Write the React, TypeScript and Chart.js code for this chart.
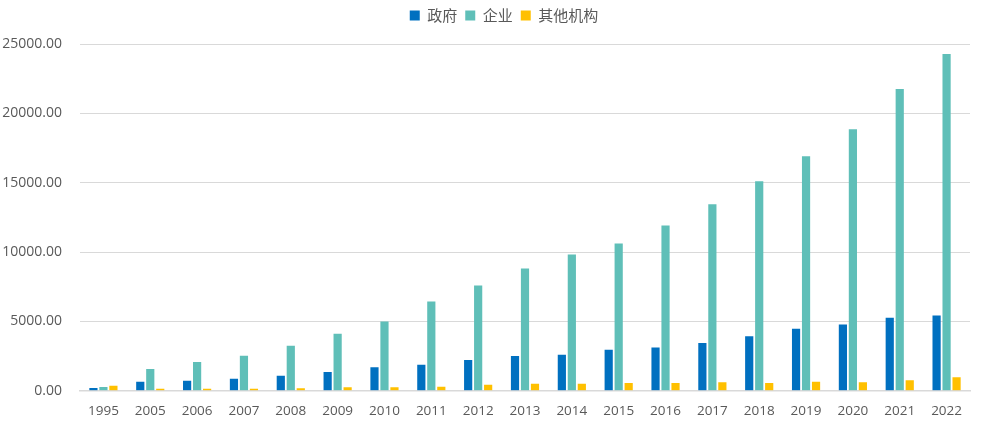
import React, { useEffect, useRef } from "react";
import { Chart, registerables } from "chart.js";

Chart.register(...registerables);

const years = ["1995", "2005", "2006", "2007", "2008", "2009", "2010", "2011", "2012", "2013", "2014", "2015", "2016", "2017", "2018", "2019", "2020", "2021", "2022"];
const government = [200, 650, 720, 870, 1090, 1360, 1690, 1880, 2220, 2500, 2600, 2960, 3120, 3450, 3930, 4480, 4780, 5270, 5420];
const enterprise = [270, 1580, 2070, 2530, 3250, 4120, 5000, 6430, 7590, 8820, 9830, 10620, 11920, 13440, 15100, 16900, 18860, 21750, 24280];
const others = [370, 140, 140, 150, 190, 250, 260, 300, 430, 500, 500, 560, 560, 620, 560, 660, 620, 760, 970];
const seriesNames = ["政府", "企业", "其他机构"];

const TOP_GAP = 11;

const legendShift = {
  id: "legendShift",
  afterLayout(chart: any) {
    if (chart.legend) {
      chart.legend.left += 18;
      chart.legend.right += 18;
      chart.legend.top -= TOP_GAP;
      chart.legend.bottom -= TOP_GAP;
    }
  },
};

export default function App() {
  const ref = useRef<HTMLCanvasElement>(null);
  useEffect(() => {
    document.body.style.margin = "0";
    const ctx = ref.current!;
    const font = "'Noto Sans CJK SC', 'Open Sans', sans-serif";
    const numFont = "'Open Sans', sans-serif";
    const chart = new Chart(ctx, {
      type: "bar",
      data: {
        labels: years,
        datasets: [
          { label: seriesNames[0], data: government, backgroundColor: "#0070C0" },
          { label: seriesNames[1], data: enterprise, backgroundColor: "#5FBFB8" },
          { label: seriesNames[2], data: others, backgroundColor: "#FFC000" },
        ],
      },
      options: {
        responsive: false,
        animation: false,
        devicePixelRatio: 1,
        layout: { padding: { left: 2, right: 30, top: TOP_GAP, bottom: 14 } },
        datasets: { bar: { categoryPercentage: 0.64, barPercentage: 0.82 } },
        plugins: {
          legend: {
            position: "top",
            labels: {
              boxWidth: 10,
              boxHeight: 10,
              color: "#595959",
              font: { family: font, size: 15 },
              padding: 8,
            },
          },
          tooltip: { enabled: false },
        },
        scales: {
          x: {
            grid: { display: false, drawTicks: false },
            border: { display: true, color: "#d9d9d9", width: 1.5 },
            ticks: { color: "#595959", font: { family: numFont, size: 13.5 }, padding: 12, maxRotation: 0, autoSkip: false },
          },
          y: {
            min: 0,
            max: 25000,
            grid: { color: "#d9d9d9", drawTicks: false },
            border: { display: false },
            afterFit: (scale: any) => {
              scale.width = 78;
            },
            ticks: {
              stepSize: 5000,
              color: "#595959",
              font: { family: numFont, size: 14 },
              padding: 18,
              callback: (v: any) => Number(v).toFixed(2),
            },
          },
        },
      },
      plugins: [legendShift],
    });
    return () => chart.destroy();
  }, []);
  return (
    <div style={{ width: 1000, height: 445 }}>
      <canvas ref={ref} width={1000} height={445} />
    </div>
  );
}
